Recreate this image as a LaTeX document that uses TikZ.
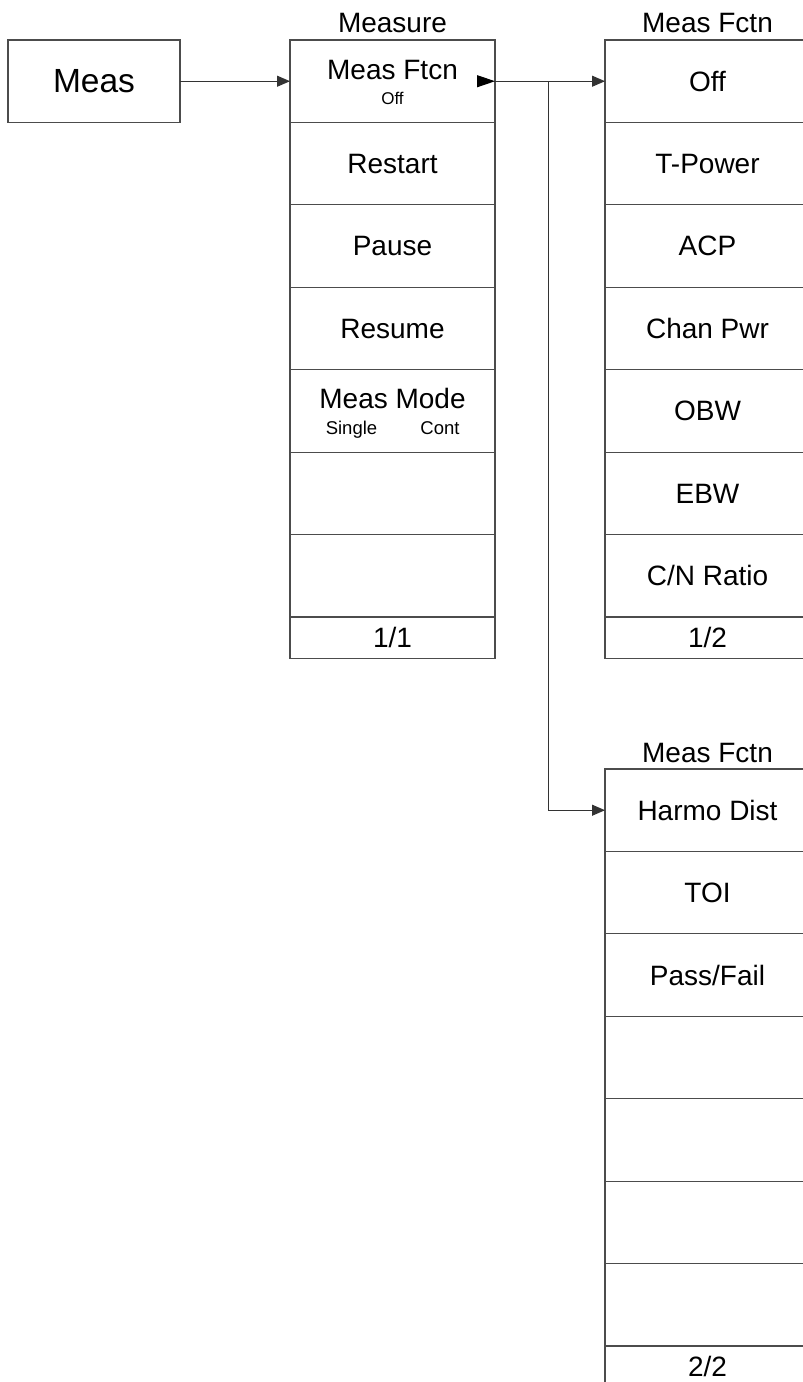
\documentclass[tikz,border=0pt]{standalone}
\usepackage{fontspec}
\setmainfont{Liberation Sans}
\usetikzlibrary{arrows.meta,positioning}

\newcommand*{\rowh}{82.43}
\newcommand*{\menutop}{40}
\newcommand*{\lowtop}{769}

\begin{document}
\begin{tikzpicture}
[
	x=1pt, y=-1pt,
	menubox/.style={rectangle,draw=black!70,line width=1.2pt,inner sep=0pt,outer sep=0pt,minimum width=205pt,minimum height=\rowh pt,font=\fontsize{28}{32}\selectfont},
	pagebox/.style={menubox,minimum height=41.4pt},
	keybox/.style={menubox,minimum width=172pt,font=\fontsize{33.5}{38}\selectfont},
	header/.style={anchor=base,font=\fontsize{28}{32}\selectfont},
	subtext/.style={anchor=base,font=\fontsize{17}{20}\selectfont},
	modetext/.style={anchor=base,font=\fontsize{18.5}{22}\selectfont},
	link/.style={draw=black!80,line width=1pt,-{Triangle[length=13pt,width=11pt]}},
	marker/.style={draw=black,line width=1pt,-{Triangle[length=18pt,width=12pt]}}
]

	\useasboundingbox (0,0) rectangle (803,1382);
	\clip (0,0) rectangle (803,1382);

	% hard key
	\node[keybox] (meas) at (94,{\menutop+0.5*\rowh}) {Meas};

	% measure menu
	\foreach \txt [count=\i] in {{},Restart,Pause,Resume,{},{},{}} {
		\node[menubox] (m\i) at (392.5,{\menutop+(\i-0.5)*\rowh}) {\txt};
	}
	\node[pagebox,anchor=north] (mpage) at (m7.south) {1/1};
	\node[header] (hmeasure) at ([yshift=8pt]m1.north) {Measure};

	\node[header] (mftcn) at ([yshift=2pt]m1.center) {Meas Ftcn};
	\node[subtext] (mftcnoff) at ([yshift=-23pt]m1.center) {Off};
	\node[header] (mmode) at ([yshift=2pt]m5.center) {Meas Mode};
	\node[modetext] (msingle) at ([xshift=-41pt,yshift=-24pt]m5.center) {Single};
	\node[modetext] (mcont) at ([xshift=47.5pt,yshift=-24pt]m5.center) {Cont};

	% meas fctn, page 1
	\foreach \txt [count=\i] in {Off,T-Power,ACP,Chan Pwr,OBW,EBW,C/N Ratio} {
		\node[menubox] (f\i) at (707.5,{\menutop+(\i-0.5)*\rowh}) {\txt};
	}
	\node[pagebox,anchor=north] (fpage) at (f7.south) {1/2};
	\node[header] (hfctn) at ([yshift=8pt]f1.north) {Meas Fctn};

	% meas fctn, page 2
	\foreach \txt [count=\i] in {Harmo Dist,TOI,Pass/Fail,{},{},{},{}} {
		\node[menubox] (g\i) at (707.5,{\lowtop+(\i-0.5)*\rowh}) {\txt};
	}
	\node[pagebox,anchor=north] (gpage) at (g7.south) {2/2};
	\node[header] (hfctnb) at ([yshift=7pt]g1.north) {Meas Fctn};

	% links
	\draw[link] (meas) -- (m1);
	\draw[marker] ([xshift=-18pt]m1.east) -- (m1.east);
	\draw[link] (m1.east) -- (f1.west) coordinate[pos=0.49] (split);
	\draw[link] (split) |- (g1.west);

\end{tikzpicture}
\end{document}
